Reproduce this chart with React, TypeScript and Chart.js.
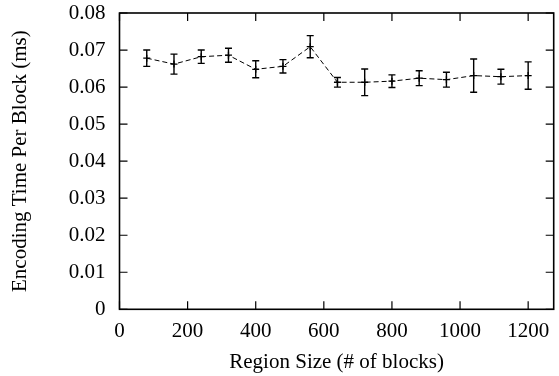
import React, { useEffect, useRef } from "react";
import { Chart, registerables } from "chart.js";

Chart.register(...registerables);

// Region size (# of blocks)
const regionSizes = [80, 160, 240, 320, 400, 480, 560, 640, 720, 800, 880, 960, 1040, 1120, 1200];
// Mean encoding time per block (ms)
const meanTimes = [0.0678, 0.0662, 0.0682, 0.0686, 0.0648, 0.0656, 0.0709, 0.0613, 0.0613, 0.0616, 0.0624, 0.0620, 0.0631, 0.0628, 0.0631];
// Half-width of the error bar (ms)
const errTimes = [0.0022, 0.0027, 0.0018, 0.0019, 0.0023, 0.0018, 0.0030, 0.0013, 0.0036, 0.0017, 0.0020, 0.0020, 0.0045, 0.0020, 0.0037];

const xTicks = [0, 200, 400, 600, 800, 1000, 1200];
const yTicks = [0, 0.01, 0.02, 0.03, 0.04, 0.05, 0.06, 0.07, 0.08];

const X_MIN = 0;
const X_MAX = 1275;
const Y_MIN = 0;
const Y_MAX = 0.08;

const FONT = "'Liberation Serif', 'Times New Roman', serif";
const FONT_SIZE = 21;

const frameAndErrors = {
  id: "frameAndErrors",
  afterDatasetsDraw(chart: any) {
    const { ctx, chartArea, scales } = chart;
    const xs = scales.x;
    const ys = scales.y;
    const { left, right, top, bottom } = chartArea;
    ctx.save();
    ctx.strokeStyle = "#000";
    ctx.setLineDash([]);

    // error bars
    ctx.lineWidth = 1.4;
    const cap = 3.5;
    regionSizes.forEach((x, i) => {
      const px = xs.getPixelForValue(x);
      const hi = ys.getPixelForValue(meanTimes[i] + errTimes[i]);
      const lo = ys.getPixelForValue(meanTimes[i] - errTimes[i]);
      ctx.beginPath();
      ctx.moveTo(px, hi);
      ctx.lineTo(px, lo);
      ctx.moveTo(px - cap, hi);
      ctx.lineTo(px + cap, hi);
      ctx.moveTo(px - cap, lo);
      ctx.lineTo(px + cap, lo);
      ctx.stroke();
    });

    // inward ticks on all four sides
    const tl = 8;
    ctx.lineWidth = 1.2;
    ctx.beginPath();
    xTicks.forEach((v) => {
      const px = xs.getPixelForValue(v);
      ctx.moveTo(px, bottom);
      ctx.lineTo(px, bottom - tl);
      ctx.moveTo(px, top);
      ctx.lineTo(px, top + tl);
    });
    yTicks.forEach((v) => {
      const py = ys.getPixelForValue(v);
      ctx.moveTo(left, py);
      ctx.lineTo(left + tl, py);
      ctx.moveTo(right, py);
      ctx.lineTo(right - tl, py);
    });
    ctx.stroke();

    // frame
    ctx.lineWidth = 1.6;
    ctx.strokeRect(left, top, right - left, bottom - top);
    ctx.restore();
  },
};

export default function App() {
  const canvasRef = useRef<HTMLCanvasElement | null>(null);

  useEffect(() => {
    if (!canvasRef.current) return;
    const chart = new Chart(canvasRef.current, {
      type: "line",
      data: {
        datasets: [
          {
            data: regionSizes.map((x, i) => ({ x, y: meanTimes[i] })),
            borderColor: "#000",
            borderWidth: 1,
            borderDash: [5, 3],
            pointStyle: "cross",
            pointRadius: 3.5,
            pointBorderWidth: 1.3,
            pointBorderColor: "#000",
            fill: false,
            tension: 0,
          },
        ],
      },
      plugins: [frameAndErrors],
      options: {
        responsive: false,
        animation: false,
        events: [],
        layout: { padding: { left: 0, right: 2, top: 13, bottom: 0 } },
        plugins: { legend: { display: false }, tooltip: { enabled: false } },
        scales: {
          x: {
            type: "linear",
            min: X_MIN,
            max: X_MAX,
            border: { display: false },
            grid: { display: false, drawTicks: false },
            afterBuildTicks: (scale: any) => {
              scale.ticks = xTicks.map((value) => ({ value }));
            },
            afterFit: (scale: any) => {
              scale.height = 66.7;
              scale.paddingLeft = 0;
              scale.paddingRight = 0;
            },
            ticks: {
              padding: 10,
              color: "#000",
              font: { family: FONT, size: FONT_SIZE },
              maxRotation: 0,
              autoSkip: false,
              callback: (v: any) => String(v),
            },
            title: {
              display: true,
              text: "Region Size (# of blocks)",
              color: "#000",
              font: { family: FONT, size: FONT_SIZE },
              padding: { top: 0, bottom: 0.5 },
            },
          },
          y: {
            type: "linear",
            min: Y_MIN,
            max: Y_MAX,
            border: { display: false },
            grid: { display: false, drawTicks: false },
            afterBuildTicks: (scale: any) => {
              scale.ticks = yTicks.map((value) => ({ value }));
            },
            afterFit: (scale: any) => {
              scale.width = 119.5;
              scale.paddingTop = 0;
              scale.paddingBottom = 0;
            },
            ticks: {
              padding: 14,
              color: "#000",
              font: { family: FONT, size: FONT_SIZE },
              autoSkip: false,
              callback: (v: any) => (Number(v) === 0 ? "0" : Number(v).toFixed(2)),
            },
            title: {
              display: true,
              text: "Encoding Time Per Block (ms)",
              color: "#000",
              font: { family: FONT, size: FONT_SIZE },
              padding: { top: 8, bottom: 0 },
            },
          },
        },
      },
    });
    return () => chart.destroy();
  }, []);

  return (
    <div style={{ position: "fixed", left: 0, top: 0, width: 559, height: 376, background: "#fff" }}>
      <canvas ref={canvasRef} width={559} height={376} style={{ display: "block", width: 559, height: 376 }} />
    </div>
  );
}
